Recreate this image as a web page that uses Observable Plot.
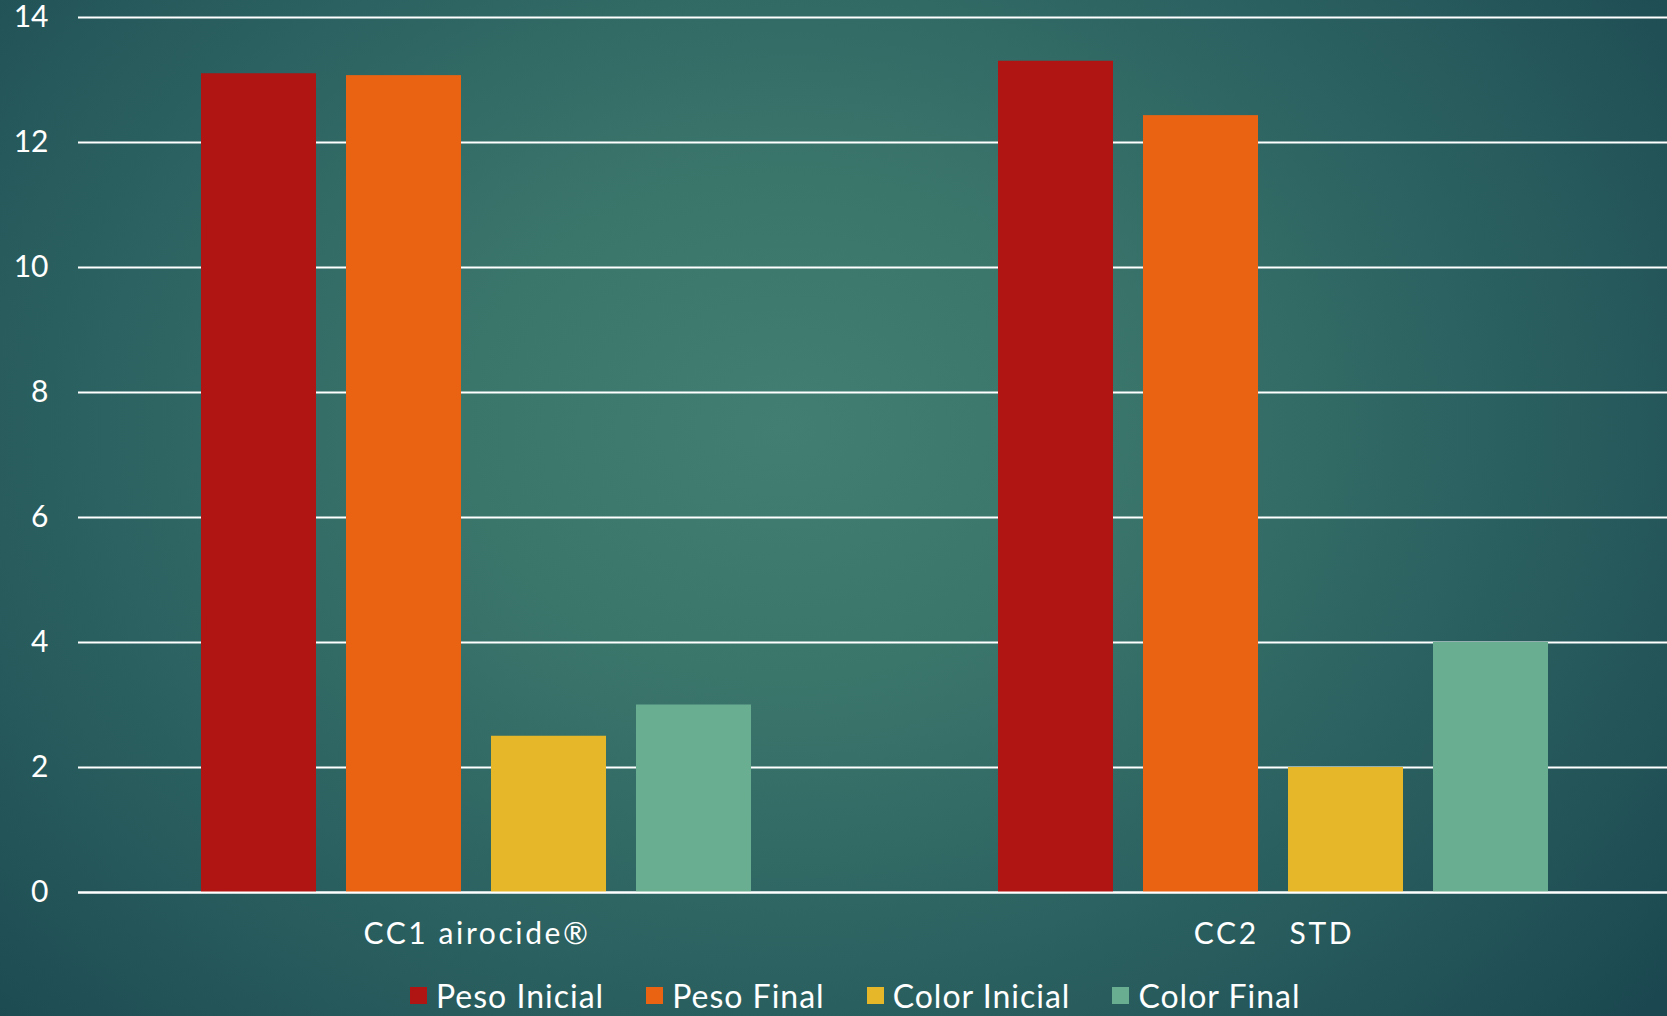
<!DOCTYPE html>
<html>
<head>
<meta charset="utf-8">
<script src="https://cdn.jsdelivr.net/npm/d3@7"></script>
<script src="https://cdn.jsdelivr.net/npm/@observablehq/plot@0.6"></script>
<style>
  html, body { margin: 0; padding: 0; overflow: hidden; }
  body {
    width: 1667px; height: 1016px; position: relative;
    background: radial-gradient(ellipse 68% 88% at 47% 42%, #427e72 0%, #3b766b 28%, #2e6563 55%, #245659 80%, #1b4850 100%);
    font-family: Lato, "Open Sans", sans-serif;
  }
  #chart { position: absolute; left: 0; top: 0; width: 1667px; height: 960px; overflow: hidden; }
  svg text { white-space: pre; }
  svg g[aria-label="fx-axis tick label"] text { letter-spacing: 2.6px; }
  #legend {
    position: absolute; left: 410px; top: 975px; height: 40px;
    display: flex; align-items: center; color: white; font-size: 32px; letter-spacing: 1px;
    font-family: Lato, "Open Sans", sans-serif;
  }
  #legend .item { display: flex; align-items: center; margin-right: 42px; }
  #legend .sw { width: 17px; height: 17px; margin-right: 9px; }
</style>
</head>
<body>
<div id="chart"></div>
<div id="legend"></div>
<script>
const groups = ["CC1 airocide®", "CC2   STD"];
const series = ["Peso Inicial", "Peso Final", "Color Inicial", "Color Final"];
const colors = ["#b01513", "#e96313", "#e6b729", "#6aae91"];
const pesoInicial = [13.1, 13.3];
const pesoFinal = [13.07, 12.43];
const colorInicial = [2.5, 2.0];
const colorFinal = [3.0, 4.0];
const yTicks = [0, 2, 4, 6, 8, 10, 12, 14];

const valuesBySeries = [pesoInicial, pesoFinal, colorInicial, colorFinal];
const data = [];
groups.forEach((g, gi) => {
  series.forEach((s, si) => {
    data.push({group: g, series: s, value: valuesBySeries[si][gi]});
  });
});

const chart = Plot.plot({
  width: 1672,
  height: 960,
  marginLeft: 77,
  marginRight: 0,
  marginTop: 17,
  marginBottom: 68,
  style: {background: "transparent", color: "white", fontFamily: "Lato, 'Open Sans', sans-serif", fontSize: "30px"},
  fx: {domain: groups, padding: 0, label: null, tickSize: 0, tickPadding: 30, fontSize: 32},
  x: {domain: series, paddingInner: 0.205, paddingOuter: 0.85, axis: null},
  y: {domain: [0, 14], ticks: yTicks, label: null, tickSize: 0, tickPadding: 30},
  color: {domain: series, range: colors},
  marks: [
    Plot.gridY(yTicks, {stroke: "white", strokeOpacity: 1, strokeWidth: 2}),
    Plot.barY(data, {fx: "group", x: "series", y: "value", fill: "series"}),
    Plot.ruleY([0], {stroke: "white", strokeWidth: 2})
  ]
});
chart.style.maxWidth = "none";
document.getElementById("chart").appendChild(chart);

const legend = document.getElementById("legend");
series.forEach((s, i) => {
  const item = document.createElement("div");
  item.className = "item";
  const sw = document.createElement("div");
  sw.className = "sw";
  sw.style.background = colors[i];
  const t = document.createElement("span");
  t.textContent = s;
  item.appendChild(sw);
  item.appendChild(t);
  legend.appendChild(item);
});
</script>
</body>
</html>
